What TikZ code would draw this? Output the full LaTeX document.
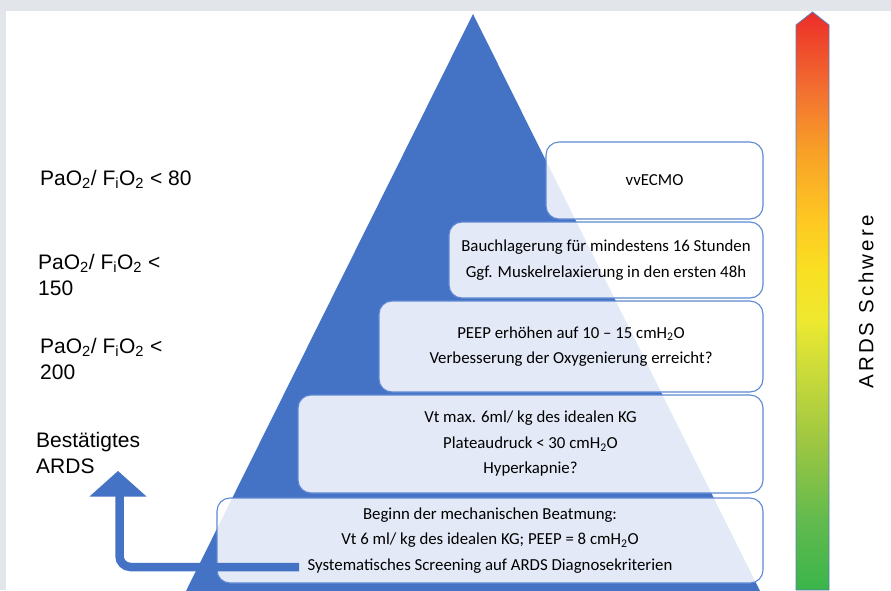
\documentclass[tikz,border=0pt]{standalone}
\usepackage{fontspec}
\setmainfont{Liberation Sans}
\newfontfamily\calib{Carlito}
\newfontfamily\spacedsans[LetterSpace=15]{Liberation Sans}
\definecolor{framegrey}{HTML}{E2E6EA}
\definecolor{pyrblue}{HTML}{4472C4}
\definecolor{boxline}{HTML}{5E89D2}
\definecolor{barline}{HTML}{5B7DB8}
\definecolor{sg0}{HTML}{3AB54A}
\definecolor{sg1}{HTML}{62BA4E}
\definecolor{sg2}{HTML}{9FC741}
\definecolor{sg3}{HTML}{CBDB3A}
\definecolor{sg4}{HTML}{EEE930}
\definecolor{sg5}{HTML}{F9DF22}
\definecolor{sg6}{HTML}{FEC823}
\definecolor{sg7}{HTML}{F8A027}
\definecolor{sg8}{HTML}{F27030}
\definecolor{sg9}{HTML}{EE3D2A}
\definecolor{sg10}{HTML}{EC2D2A}
\pgfdeclareverticalshading{ardsbar}{100bp}{color(0bp)=(sg0); color(25bp)=(sg0); color(31bp)=(sg1); color(38bp)=(sg2); color(44bp)=(sg3); color(48.4bp)=(sg4); color(52.7bp)=(sg5); color(57bp)=(sg6); color(63bp)=(sg7); color(68.2bp)=(sg8); color(73.4bp)=(sg9); color(75bp)=(sg10); color(100bp)=(sg10)}
\tikzset{
  stepbox/.style={draw=boxline, line width=1.1pt, fill=white, fill opacity=0.85, text opacity=1,
    rounded corners=13pt, align=center, inner sep=0pt,
    font=\calib\fontsize{16.8}{25.5}\selectfont},
  lbl/.style={anchor=base west, inner sep=0pt, font=\fontsize{21}{26}\selectfont},
  arrowshaft/.style={draw=pyrblue, line width=8.5pt, rounded corners=11pt},
}
\begin{document}
\begin{tikzpicture}[x=1pt, y=-1pt]
\useasboundingbox (0,0) rectangle (891,590);
\fill[framegrey] (0,0) rectangle (891,590);
\fill[white] (6,11) rectangle (891,590);
% pyramid
\fill[pyrblue] (473,14) -- (760,591) -- (186,591) -- cycle;
% boxes
\node[stepbox, minimum width=217pt, minimum height=77pt] (b1) at (654.5,180.5) {vvECMO};
\node[stepbox, minimum width=314pt, minimum height=76pt] (b2) at (606,260) {Bauchlagerung für mindestens 16 Stunden\\Ggf. Muskelrelaxierung in den ersten 48h};
\node[stepbox, minimum width=384pt, minimum height=91pt] (b3) at (571,346.5) {PEEP erhöhen auf 10 – 15 cmH\textsubscript{2}O\\Verbesserung der Oxygenierung erreicht?};
\node[stepbox, minimum width=465pt, minimum height=98pt] (b4) at (530.5,444) {Vt max. 6ml/ kg des idealen KG\\Plateaudruck < 30 cmH\textsubscript{2}O\\Hyperkapnie?};
\node[stepbox, minimum width=546pt, minimum height=85pt] (b5) at (490,540.5) {Beginn der mechanischen Beatmung:\\Vt 6 ml/ kg des idealen KG; PEEP = 8 cmH\textsubscript{2}O\\Systematisches Screening auf ARDS Diagnosekriterien};
% bent arrow
\coordinate (arrowstart) at (299,567);
\coordinate (arrowbend) at (119.5,567);
\coordinate (headbase) at (119.5,494);
\coordinate (arrowtip) at (118,471);
\draw[arrowshaft] (arrowstart) -- (arrowbend) -- (headbase);
\fill[pyrblue] (arrowtip) -- (146.5,496.5) -- (89.5,496.5) -- cycle;
% severity bar
\shade[shading=ardsbar, draw=barline, line width=0.8pt] (796,590) -- (796,25) -- (812.5,12) -- (829,25) -- (829,590) -- cycle;
\node[rotate=90, inner sep=0pt, font=\spacedsans\fontsize{20.5}{24}\selectfont] (sev) at (866,302) {ARDS Schwere};
% left labels
\node[lbl] (r80) at (40,185) {PaO\textsubscript{2}/ F\textsubscript{i}O\textsubscript{2} < 80};
\node[lbl] (r150a) at (38,269) {PaO\textsubscript{2}/ F\textsubscript{i}O\textsubscript{2} <};
\node[lbl] (r150b) at (38,295) {150};
\node[lbl] (r200a) at (40,353) {PaO\textsubscript{2}/ F\textsubscript{i}O\textsubscript{2} <};
\node[lbl] (r200b) at (40,379) {200};
\node[lbl] (confa) at (36,447) {Bestätigtes};
\node[lbl] (confb) at (36,473) {ARDS};
\end{tikzpicture}
\end{document}
